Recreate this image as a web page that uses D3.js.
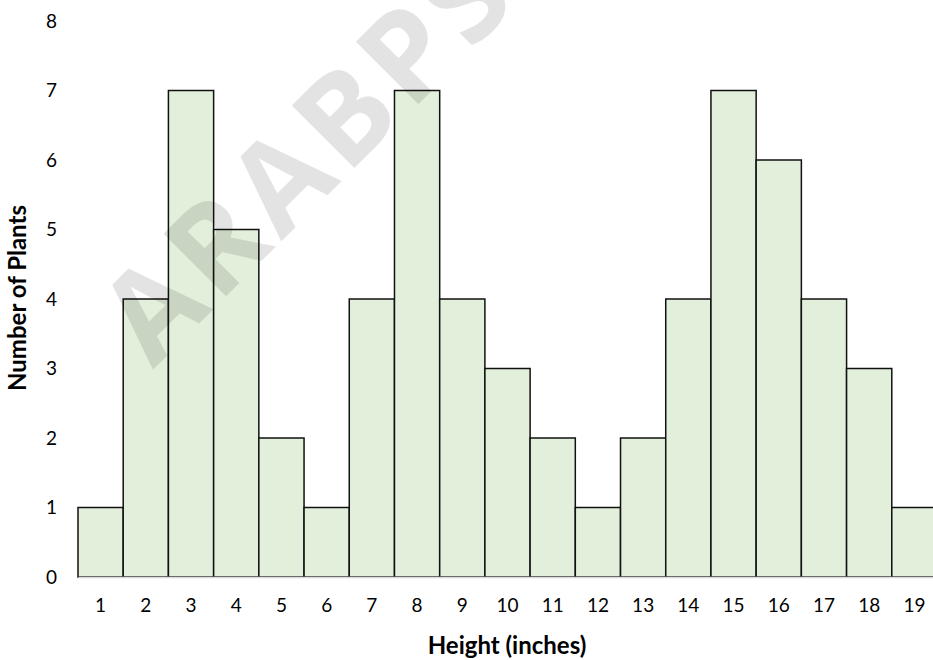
<!DOCTYPE html>
<html>
<head>
<meta charset="utf-8">
<script src="https://cdn.jsdelivr.net/npm/d3@7"></script>
<style>
  html, body { margin: 0; padding: 0; background: #fff; overflow: hidden; }
  svg { display: block; }
  text { font-family: Lato, "Open Sans", sans-serif; fill: #000; }
</style>
</head>
<body>
<svg id="chart" width="933" height="660"></svg>
<script>
// Plant height histogram: number of plants per height (inches)
const heights = [1, 2, 3, 4, 5, 6, 7, 8, 9, 10, 11, 12, 13, 14, 15, 16, 17, 18, 19];
const plantCounts = [1, 4, 7, 5, 2, 1, 4, 7, 4, 3, 2, 1, 2, 4, 7, 6, 4, 3, 1];
const yTicks = [0, 1, 2, 3, 4, 5, 6, 7, 8];
const xTitle = "Height (inches)";
const yTitle = "Number of Plants";
const watermark = "ARABPS";

const svg = d3.select("#chart");
const plot = { left: 78, right: 937, top: 21, bottom: 577 };

const x = d3.scaleBand().domain(heights).range([plot.left, plot.right]).padding(0);
const y = d3.scaleLinear().domain([0, 8]).range([plot.bottom, plot.top]);

// bars
svg.append("g")
  .selectAll("rect")
  .data(heights.map((h, i) => ({ h, v: plantCounts[i] })))
  .join("rect")
  .attr("x", d => x(d.h))
  .attr("y", d => y(d.v))
  .attr("width", x.bandwidth())
  .attr("height", d => y(0) - y(d.v))
  .attr("fill", "#e2efda")
  .attr("stroke", "#111")
  .attr("stroke-width", 1.5);

// x axis
const xAxis = svg.append("g")
  .attr("transform", `translate(0,${plot.bottom})`)
  .call(d3.axisBottom(x).tickSize(0).tickPadding(22));
xAxis.select(".domain").attr("stroke", "#d9d9d9").attr("stroke-width", 1.5);
xAxis.selectAll("text").attr("font-size", 19).attr("fill", "#1a1a1a")
  .style("font-family", "Lato, 'Open Sans', sans-serif");

// y axis
const yAxis = svg.append("g")
  .attr("transform", `translate(${plot.left},0)`)
  .call(d3.axisLeft(y).tickValues(yTicks).tickSize(0).tickPadding(21));
yAxis.select(".domain").remove();
yAxis.selectAll("text").attr("font-size", 19).attr("fill", "#1a1a1a")
  .style("font-family", "Lato, 'Open Sans', sans-serif");

// axis titles
svg.append("text")
  .attr("x", 507).attr("y", 654)
  .attr("text-anchor", "middle")
  .attr("font-size", 24).attr("font-weight", "bold")
  .text(xTitle);

svg.append("text")
  .attr("transform", "translate(26,298) rotate(-90)")
  .attr("text-anchor", "middle")
  .attr("font-size", 24).attr("font-weight", "bold")
  .text(yTitle);

// watermark
svg.append("text")
  .attr("transform", "translate(304,150) rotate(-45)")
  .attr("text-anchor", "middle")
  .attr("dominant-baseline", "central")
  .attr("font-size", 124)
  .attr("font-weight", "bold")
  .attr("letter-spacing", 7)
  .style("font-family", "'Open Sans', sans-serif")
  .attr("fill", "#000")
  .attr("fill-opacity", 0.11)
  .text(watermark);
</script>
</body>
</html>
